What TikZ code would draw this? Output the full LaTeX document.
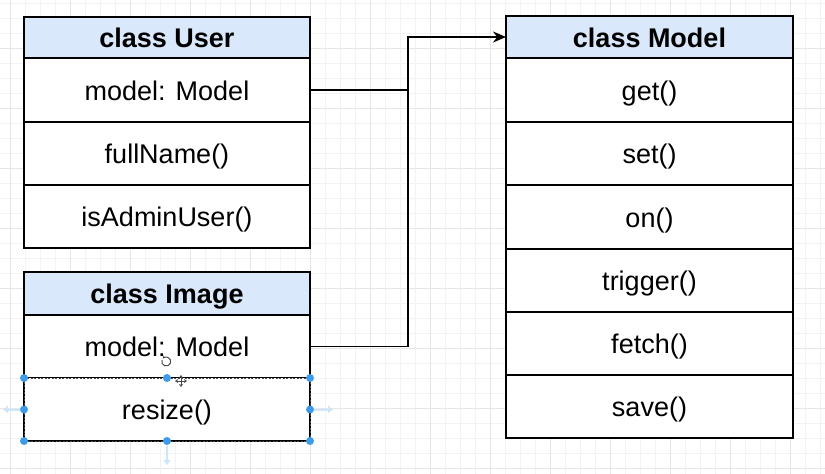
\documentclass[tikz,border=0pt]{standalone}
\usepackage{fontspec}
\setmainfont{Liberation Sans}
\usetikzlibrary{arrows.meta}
\definecolor{hdrblue}{HTML}{DAE8FC}
\definecolor{handle}{HTML}{3D9BE9}
\definecolor{gridminor}{HTML}{F3F3F3}
\definecolor{gridmajor}{HTML}{E6E6E6}
\tikzset{
  cell/.style={draw=black, line width=1.2pt, fill=white, rectangle, inner sep=0pt, outer sep=0pt,
    text height=26pt, text depth=6pt,
    font=\fontsize{27}{31}\selectfont, text=black},
  hdr/.style={cell, fill=hdrblue, font=\fontsize{27}{31}\selectfont\bfseries},
  conn/.style={draw=black, line width=1.2pt},
  hdot/.style={circle, fill=handle, inner sep=0pt, minimum size=8pt},
  faintarrow/.style={draw=handle!25, line width=2pt, -{Triangle[length=5pt,width=7pt]}}
}
\begin{document}
\begin{tikzpicture}[x=1pt,y=-1pt]
\useasboundingbox (0,0) rectangle (825,474);
\fill[white] (0,0) rectangle (825,474);
% grid
\foreach \x in {10,25,...,825} \draw[gridminor, line width=0.6pt] (\x,0) -- (\x,474);
\foreach \y in {3,18,...,474} \draw[gridminor, line width=0.6pt] (0,\y) -- (825,\y);
\foreach \x in {10,70,...,825} \draw[gridmajor, line width=0.7pt] (\x,0) -- (\x,474);
\foreach \y in {48,108,...,474} \draw[gridmajor, line width=0.7pt] (0,\y) -- (825,\y);

% class User
\node[hdr, minimum width=286pt, minimum height=41pt] (uh) at (167,37.5) {class User};
\node[cell, minimum width=286pt, minimum height=64pt] (um) at (167,90) {model: Model};
\node[cell, minimum width=286pt, minimum height=63pt] (uf) at (167,153.5) {fullName()};
\node[cell, minimum width=286pt, minimum height=63pt] (ua) at (167,216.5) {isAdminUser()};

% class Image
\node[hdr, minimum width=286pt, minimum height=43pt] (ih) at (167,293.5) {class Image};
\node[cell, minimum width=286pt, minimum height=63pt] (im) at (167,346.5) {model: Model};
\node[cell, draw=none, minimum width=286pt, minimum height=63pt] (ir) at (167,409.5) {resize()};
\draw[black, line width=1.2pt] (im.south west) -- (ir.south west -| im.west);
\draw[black, line width=1.2pt] (ir.north east) -- (ir.south east);
\draw[black, line width=1.2pt] (ir.south west) -- (ir.south east);
\draw[black!70, line width=0.6pt, dash pattern=on 2pt off 1.5pt] (ir.north west) rectangle (ir.south east);

% class Model
\node[hdr, minimum width=287pt, minimum height=42pt] (mh) at (649.5,37) {class Model};
\node[cell, minimum width=287pt, minimum height=64pt] (mg) at (649.5,90) {get()};
\node[cell, minimum width=287pt, minimum height=63pt] (ms) at (649.5,153.5) {set()};
\node[cell, minimum width=287pt, minimum height=64pt] (mo) at (649.5,217) {on()};
\node[cell, minimum width=287pt, minimum height=63pt] (mt) at (649.5,280.5) {trigger()};
\node[cell, minimum width=287pt, minimum height=63pt] (mf) at (649.5,343.5) {fetch()};
\node[cell, minimum width=287pt, minimum height=63pt] (mv) at (649.5,406.5) {save()};

% connectors
\coordinate (bend) at (408,37);
\draw[conn] (im.east) -- (im.east -| bend) -- (bend);
\draw[conn, -{Stealth[length=13pt,width=11pt]}] (um.east) -- (um.east -| bend) -- (bend) -- (mh.west);

% selection handles
\draw[faintarrow] (20,409.5) -- (3,409.5);
\draw[faintarrow] (314,409.5) -- (333,409.5);
\draw[faintarrow] (167,446) -- (167,465);
\foreach \p in {north west, north, north east, west, east, south west, south, south east}
  \node[hdot] at (ir.\p) {};
% cursor marks
\draw[black!70, line width=1pt, -{Stealth[length=3pt,width=3pt]}] (162,360) arc[start angle=160, end angle=500, radius=4.5pt];
\draw[black!70, line width=1pt, {Stealth[length=3pt,width=4pt]}-{Stealth[length=3pt,width=4pt]}] (175,381) -- (187,381);
\draw[black!70, line width=1pt, {Stealth[length=3pt,width=4pt]}-{Stealth[length=3pt,width=4pt]}] (181,375) -- (181,387);
\end{tikzpicture}
\end{document}
